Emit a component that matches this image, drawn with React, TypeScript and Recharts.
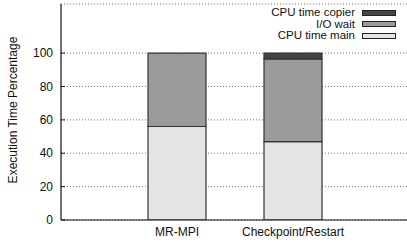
import { BarChart, Bar, XAxis, YAxis, CartesianGrid, Legend } from "recharts"

const categories = ["MR-MPI", "Checkpoint/Restart"]
const cpuMain = [56, 47]
const ioWait = [44, 49.5]
const cpuCopier = [0, 3.5]
const yTicks = [0, 20, 40, 60, 80, 100]

const FONT = '"Liberation Sans", Arial, Helvetica, sans-serif'

const data = categories.map((name, i) => ({
  name,
  main: cpuMain[i],
  io: ioWait[i],
  copier: cpuCopier[i],
}))

// stacked bottom to top
const SERIES = [
  { key: "main",   name: "CPU time main",   fill: "#e4e4e4" },
  { key: "io",     name: "I/O wait",        fill: "#9b9b9b" },
  { key: "copier", name: "CPU time copier", fill: "#454545" },
]

const tickStyle = { fontSize: 12, fill: "#111", fontFamily: FONT }

export default function App() {
  return (
    <div style={{ position: "absolute", left: 0, top: 0, width: 407, height: 244, overflow: "hidden", background: "#fff" }}>
      <BarChart
        width={410}
        height={244}
        data={data}
        margin={{ top: 4, right: 1, left: 0, bottom: 0 }}
        barSize={58}
      >
        <CartesianGrid horizontal vertical={false} stroke="#777" strokeDasharray="1 2" />
        <XAxis
          dataKey="name"
          height={24}
          padding={{ left: 58, right: 58 }}
          axisLine={{ stroke: "#111", strokeWidth: 1.2 }}
          tickLine={false}
          tickSize={0}
          tickMargin={7}
          tick={tickStyle}
        />
        <XAxis
          xAxisId="top"
          orientation="top"
          dataKey="name"
          height={0}
          padding={{ left: 58, right: 58 }}
          axisLine={{ stroke: "#111", strokeWidth: 1.2 }}
          tickLine={{ stroke: "#111" }}
          tickSize={-3}
          tickFormatter={() => ""}
        />
        <YAxis
          width={61}
          domain={[0, 129.4]}
          ticks={yTicks}
          allowDataOverflow
          axisLine={{ stroke: "#111", strokeWidth: 1.2 }}
          tickLine={{ stroke: "#111" }}
          tickSize={-4}
          tickMargin={12}
          tick={tickStyle}
          label={{
            value: "Execution Time Percentage",
            angle: -90,
            position: "insideLeft",
            offset: 13,
            dy: -2,
            style: { fontSize: 12, fill: "#111", fontFamily: FONT, textAnchor: "middle" },
          }}
        />
        <Legend
          layout="horizontal"
          verticalAlign="middle"
          align="center"
          wrapperStyle={{ position: "absolute", top: 7, left: 0, width: 396 }}
          content={() => (
            <div style={{ fontFamily: FONT, fontSize: 11.5, color: "#111" }}>
              {[...SERIES].reverse().map((s) => (
                <div key={s.key} style={{ display: "flex", justifyContent: "flex-end", alignItems: "center", height: 11.6 }}>
                  <span style={{ lineHeight: "11.6px" }}>{s.name}</span>
                  <span
                    style={{
                      display: "inline-block",
                      width: 32,
                      height: 4,
                      marginLeft: 7,
                      background: s.fill,
                      border: "1px solid #222",
                    }}
                  />
                </div>
              ))}
            </div>
          )}
        />
        {SERIES.map((s) => (
          <Bar
            key={s.key}
            dataKey={s.key}
            name={s.name}
            stackId="a"
            fill={s.fill}
            stroke="#333"
            strokeWidth={1.2}
            isAnimationActive={false}
          />
        ))}
      </BarChart>
    </div>
  )
}
